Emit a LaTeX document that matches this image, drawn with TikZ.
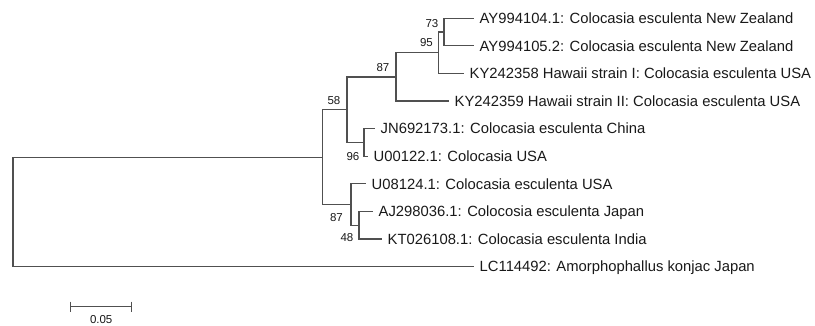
\documentclass[tikz,border=0pt]{standalone}
\usepackage{fontspec}
\setmainfont{Liberation Sans}
\definecolor{branch}{RGB}{80,80,80}
\definecolor{txt}{RGB}{25,25,25}
\tikzset{
  br/.style={draw=branch, line width=1.2pt, line cap=rect},
  leaf/.style={anchor=base west, inner sep=0pt, xshift=6.5pt, yshift=-5.3pt, text=txt, font=\fontsize{14.8}{17}\selectfont},
  bs/.style={anchor=east, inner sep=0pt, text=txt, font=\fontsize{11.5}{13}\selectfont},
}
\begin{document}
\begin{tikzpicture}[x=1pt,y=-1pt]
\useasboundingbox (0,0) rectangle (815,326);
% internal nodes
\coordinate (r) at (13,212);
\coordinate (C) at (322.7,157.2);
\coordinate (n58) at (347,109.7);
\coordinate (n87a) at (396,77);
\coordinate (n95) at (438.5,52.8);
\coordinate (n73) at (444,32.1);
\coordinate (n96) at (364,142.5);
\coordinate (n87b) at (351,204.6);
\coordinate (n48) at (359,225.3);
% leaf ends
\coordinate (L1) at (473,18.3);
\coordinate (L2) at (473,45.9);
\coordinate (L3) at (463,73.5);
\coordinate (L4) at (448,101.1);
\coordinate (L5) at (374,128.7);
\coordinate (L6) at (367,156.3);
\coordinate (L7) at (365,183.9);
\coordinate (L8) at (372,211.5);
\coordinate (L9) at (381,239.1);
\coordinate (L10) at (473,266.7);
% leaf labels
\node[leaf] (t1) at (L1) {AY994104.1: Colocasia esculenta New Zealand};
\node[leaf] (t2) at (L2) {AY994105.2: Colocasia esculenta New Zealand};
\node[leaf] (t3) at (L3) {KY242358 Hawaii strain I: Colocasia esculenta USA};
\node[leaf] (t4) at (L4) {KY242359 Hawaii strain II: Colocasia esculenta USA};
\node[leaf] (t5) at (L5) {JN692173.1: Colocasia esculenta China};
\node[leaf] (t6) at (L6) {U00122.1: Colocasia USA};
\node[leaf] (t7) at (L7) {U08124.1: Colocasia esculenta USA};
\node[leaf] (t8) at (L8) {AJ298036.1: Colocosia esculenta Japan};
\node[leaf] (t9) at (L9) {KT026108.1: Colocasia esculenta India};
\node[leaf] (t10) at (L10) {LC114492: Amorphophallus konjac Japan};
% branches
\draw[br] (r) |- (C);
\draw[br] (r) |- (L10);
\draw[br] (C) |- (n58);
\draw[br] (C) |- (n87b);
\draw[br] (n58) |- (n87a);
\draw[br] (n58) |- (n96);
\draw[br] (n87a) |- (n95);
\draw[br] (n87a) |- (L4);
\draw[br] (n95) |- (n73);
\draw[br] (n95) |- (L3);
\draw[br] (n73) |- (L1);
\draw[br] (n73) |- (L2);
\draw[br] (n96) |- (L5);
\draw[br] (n96) |- (L6);
\draw[br] (n87b) |- (L7);
\draw[br] (n87b) |- (n48);
\draw[br] (n48) |- (L8);
\draw[br] (n48) |- (L9);
% bootstrap values
\node[bs] (b73) at (438.5,23.3) {73};
\node[bs] (b95) at (433,43) {95};
\node[bs] (b87a) at (389.5,68) {87};
\node[bs] (b58) at (340.5,101) {58};
\node[bs] (b96) at (359.5,157) {96};
\node[bs] (b87b) at (343,218) {87};
\node[bs] (b48) at (353.5,238) {48};
% scale bar
\coordinate (s1) at (70.7,306.7);
\coordinate (s2) at (131.7,306.7);
\draw[br, line cap=butt] (s1) -- (s2);
\draw[br, line cap=butt] ([yshift=5pt]s1) -- ([yshift=-5pt]s1);
\draw[br, line cap=butt] ([yshift=5pt]s2) -- ([yshift=-5pt]s2);
\node[bs, anchor=center] (sl) at (101.2,320) {0.05};
\end{tikzpicture}
\end{document}
